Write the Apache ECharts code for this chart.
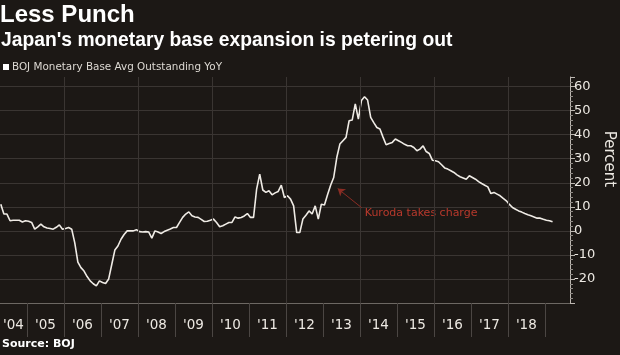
<!DOCTYPE html>
<html><head><meta charset="utf-8">
<script src="https://cdn.jsdelivr.net/npm/echarts@6/dist/echarts.min.js"></script>
<style>html,body{margin:0;padding:0;background:#1c1815;}#c{width:620px;height:355px;}</style>
</head><body><div id="c"></div>
<script>
const titleText = 'Less Punch';
const subtitleText = "Japan's monetary base expansion is petering out";
const seriesName = 'BOJ Monetary Base Avg Outstanding YoY';
const sourceText = 'Source: BOJ';
const yAxisName = 'Percent';

// monthly series, first value = April 2004
const firstYear = 2004, firstMonth = 4;
const values = [
  11.1, 7, 7, 4.2, 4.4, 4.4, 4.4, 3.7, 4.2,                       // 2004 Apr-Dec
  4.0, 3.5, 0.7, 1.7, 2.8, 1.7, 1.2, 1.0, 0.7, 1.5, 2.5, 0.7,        // 2005
  1.0, 1.4, 0.7, -5, -13, -15.3, -16.7, -19, -20.8, -22, -22.9, -20.8, // 2006
  -21.5, -21.9, -20, -14, -8, -6.3, -3.5, -1.5, 0, 0, 0, 0.5,        // 2007
  -0.3, -0.5, -0.3, -0.5, -3, 0, -0.5, -1.1, -0.3, 0.3, 0.8, 1.4,    // 2008
  1.4, 3.5, 5.6, 7.0, 7.9, 6.25, 5.8, 5.6, 4.8, 3.9, 4.0, 4.4,       // 2009
  4.9, 3.5, 1.7, 2.1, 2.8, 3.5, 3.5, 5.8, 5.3, 5.6, 6.2, 7.2,        // 2010
  5.6, 5.6, 17.4, 23.6, 17, 16, 16.7, 15, 15.8, 16.4, 19, 13.9,      // 2011
  14.6, 13.2, 10.4, -0.7, -0.7, 4.9, 6.5, 8.3, 7, 10.4, 4.9, 11.1,   // 2012
  10.8, 15, 19, 22.2, 30.5, 36.1, 37.5, 38.9, 45.8, 46.1, 52.8, 46.5, // 2013
  54.2, 55.8, 54.4, 47.2, 45, 43, 42.4, 39, 35.8, 36.3, 36.8, 38.2,  // 2014
  37.5, 36.8, 36, 35.4, 35.4, 34.7, 33.3, 34, 35.4, 33, 32.2, 29.4,  // 2015
  29.2, 28.75, 27.5, 26.2, 25.7, 25, 24.3, 23.3, 22.5, 22, 21.5, 22.9, // 2016
  22.2, 21.5, 20.5, 19.7, 19, 18.3, 15.5, 16, 15.3, 14.6, 13.5, 12.5, // 2017
  11, 9.7, 9, 8.3, 7.8, 7.2, 6.7, 6.25, 5.8, 5.3, 5.3, 4.8,          // 2018
  4.4, 4.2, 3.75                                                    // 2019 Jan-Mar
];

const yearLabelYears = [2004,2005,2006,2007,2008,2009,2010,2011,2012,2013,2014,2015,2016,2017,2018];
const separatorYears = [2005,2006,2007,2008,2009,2010,2011,2012,2013,2014,2015,2016,2017,2018,2019];
const gridYears = [2006,2008,2010,2012,2014,2016,2018];

const annotationText = 'Kuroda takes charge';
const annotationTextAt = [2014.13, 7.5];
const arrowFrom = [2014.05, 9.6];
const arrowTo = [2013.4, 17.6];

const X_MIN = 2004.27, X_MAX = 2019.68;

const seriesData = values.map((v, i) => [firstYear + (firstMonth - 1 + i + 0.5) / 12, v]);
const labelPositions = yearLabelYears.map(y => (Math.max(y, X_MIN) + Math.min(y + 1, X_MAX)) / 2);

const chart = echarts.init(document.getElementById('c'));
const txt = '#ece8e2';
chart.setOption({
  animation: false,
  backgroundColor: '#1c1815',
  title: [
    {text: titleText, left: 0, top: 3, padding: 0,
     textStyle: {color: '#ffffff', fontFamily: 'Liberation Sans', fontWeight: 'bold', fontSize: 24}},
    {text: subtitleText, left: 1, top: 31, padding: 0,
     textStyle: {color: '#ffffff', fontFamily: 'Liberation Sans', fontWeight: 'bold', fontSize: 19.3}},
    {text: sourceText, left: 2, top: 339, padding: 0,
     textStyle: {color: '#ffffff', fontFamily: 'DejaVu Sans', fontWeight: 'bold', fontSize: 11}}
  ],
  legend: {
    data: [seriesName], left: 3, top: 62, padding: 0, itemGap: 0,
    icon: 'rect', itemWidth: 6, itemHeight: 6,
    textStyle: {color: '#ddd9d3', fontFamily: 'DejaVu Sans', fontSize: 10.4, padding: [0,0,0,-2]}
  },
  grid: {left: 0, right: 50, top: 77, bottom: 52, containLabel: false},
  xAxis: {
    type: 'value', min: X_MIN, max: X_MAX,
    axisLine: {show: true, onZero: false, lineStyle: {color: '#6d6863', width: 1}},
    axisTick: {show: true, customValues: separatorYears, length: 34, lineStyle: {color: '#4b4643'}},
    axisLabel: {
      customValues: labelPositions, margin: 15, color: txt,
      fontFamily: 'DejaVu Sans', fontSize: 13.5,
      formatter: v => "'" + String(Math.floor(v)).slice(2)
    },
    splitLine: {show: false}
  },
  yAxis: {
    type: 'value', position: 'right', min: -30, max: 64, interval: 10,
    axisLine: {show: true, lineStyle: {color: '#bcb7b1', width: 1}},
    axisTick: {show: true, length: 5, lineStyle: {color: '#bcb7b1'}},
    minorTick: {show: true, splitNumber: 5, length: 3, lineStyle: {color: '#8d8883'}},
    axisLabel: {color: txt, fontFamily: 'DejaVu Sans', fontSize: 13, margin: 4,
                showMinLabel: false, showMaxLabel: false},
    splitLine: {show: true, showMinLine: false, showMaxLine: false, lineStyle: {color: '#3a3532', width: 1}}
  },
  graphic: [
    {type: 'text', x: 609, y: 159, rotation: -Math.PI / 2,
     style: {text: yAxisName, fill: txt, font: '15px "DejaVu Sans"', align: 'center', verticalAlign: 'middle'}}
  ],
  series: [
    {
      name: 'gridlines', type: 'line', data: seriesData, z: 1, silent: true,
      showSymbol: false, lineStyle: {opacity: 0}, legendHoverLink: false,
      markLine: {
        silent: true, symbol: ['none', 'none'], animation: false,
        label: {show: false},
        lineStyle: {color: '#3a3532', type: 'solid', width: 1},
        data: gridYears.map(y => ({xAxis: y}))
      }
    },
    {
      name: seriesName, type: 'line', data: seriesData, z: 3,
      showSymbol: false, symbol: 'none',
      itemStyle: {color: '#ffffff'},
      lineStyle: {color: '#efebe5', width: 1.6}
    },
    {
      name: 'annotation', type: 'line', z: 4, silent: true,
      data: [annotationTextAt], symbol: 'circle', symbolSize: 0, showSymbol: true,
      lineStyle: {opacity: 0},
      label: {show: true, position: 'right', distance: 0, formatter: annotationText,
              color: '#b8392c', fontFamily: 'DejaVu Sans', fontSize: 11},
      markLine: {
        silent: true, symbol: ['none', 'arrow'], symbolSize: 7, animation: false,
        label: {show: false},
        lineStyle: {color: '#8a2d24', type: 'solid', width: 1},
        data: [[{coord: arrowFrom}, {coord: arrowTo}]]
      }
    }
  ]
});
</script>
</body></html>
